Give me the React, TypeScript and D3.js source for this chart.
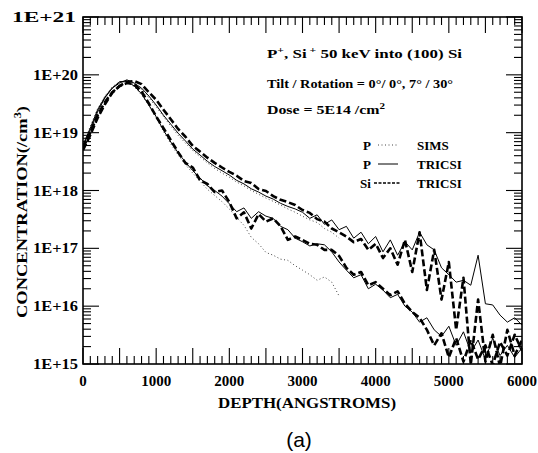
import React from "react";
import * as d3 from "d3";

const DEPTH = [0,100,200,300,400,500,600,700,800,900,1000,1100,1200,1300,1400,1500,1600,1700,1800,1900,2000,2100,2200,2300,2400,2500,2600,2700,2800,2900,3000,3100,3200,3300,3400,3500,3600,3700,3800,3900,4000,4100,4200,4300,4400,4500,4600,4700,4800,4900,5000,5100,5200,5300,5400,5500,5600,5700,5800,5900,6000];

// Si TRICSI, tilt/rotation 0/0 (channeled, upper group)
const SI_TRICSI_00 = [5.4e18,1.0e19,2.0e19,3.4e19,5.0e19,6.4e19,7.6e19,7.8e19,6.9e19,5.0e19,3.7e19,2.5e19,1.7e19,1.16e19,8.5e18,5.9e18,4.7e18,3.7e18,3.0e18,2.5e18,2.1e18,1.8e18,1.46e18,1.35e18,1.06e18,9.8e17,8.0e17,6.9e17,6.3e17,5.6e17,4.6e17,4.1e17,3.2e17,2.9e17,2.2e17,1.9e17,1.6e17,1.28e17,1.45e17,9.4e16,1.2e17,6.8e16,1.0e17,5.2e16,1.4e17,3.9e16,1.9e17,1.9e16,9.4e16,1.3e16,5.8e16,3.9e15,3.1e16,9.8e14,1.3e16,1.1e15,3.2e15,9.0e14,3.9e15,1.4e15,2.6e15];
// P TRICSI, 0/0
const P_TRICSI_00 = [6.2e18,1.2e19,2.5e19,4.1e19,5.9e19,7.2e19,8.2e19,7.2e19,5.9e19,4.3e19,3.0e19,2.0e19,1.4e19,9.8e18,7.2e18,5.2e18,4.1e18,3.2e18,2.6e18,2.2e18,1.85e18,1.5e18,1.3e18,1.07e18,9.4e17,8.0e17,7.1e17,6.0e17,5.3e17,4.8e17,4.2e17,3.3e17,3.8e17,2.6e17,3.1e17,2.1e17,2.4e17,1.5e17,1.9e17,1.2e17,1.6e17,8.7e16,1.4e17,7.6e16,1.3e17,9.4e16,1.9e17,1.15e17,9.4e16,4.6e16,3.5e16,2.6e16,2.8e16,2.3e16,7.6e16,1.1e16,1.05e16,7.0e15,5.3e15,6.3e15,4.7e15];
// Si TRICSI, 7/30 (lower group)
const SI_TRICSI_730 = [5.0e18,9.1e18,1.8e19,3.1e19,4.9e19,6.4e19,7.2e19,6.9e19,5.2e19,3.2e19,1.9e19,1.2e19,7.4e18,4.6e18,3.0e18,2.5e18,1.5e18,1.3e18,9.4e17,1.0e18,6.3e17,3.3e17,4.2e17,2.2e17,3.9e17,2.9e17,3.3e17,2.4e17,1.4e17,1.6e17,1.4e17,1.2e17,1.15e17,9.4e16,9.4e16,7.4e16,4.6e16,3.5e16,3.9e16,2.3e16,2.6e16,2.0e16,1.55e16,1.8e16,1.1e16,7.9e15,6.3e15,3.9e15,2.1e15,3.4e15,1.3e15,2.8e15,1.1e15,2.6e15,1.2e15,2.1e15,9.6e14,2.4e15,1.4e15,3.2e15,1.7e15];
// P TRICSI, 7/30
const P_TRICSI_730 = [5.9e18,1.1e19,2.3e19,4.0e19,5.9e19,7.6e19,7.8e19,6.4e19,4.7e19,3.0e19,1.9e19,1.1e19,6.9e18,4.5e18,3.1e18,2.2e18,1.65e18,1.2e18,1.0e18,8.0e17,5.9e17,4.3e17,5.0e17,3.3e17,4.3e17,3.6e17,3.3e17,2.4e17,2.1e17,1.5e17,1.3e17,1.1e17,1.2e17,1.15e17,8.7e16,5.8e16,4.2e16,3.1e16,3.5e16,2.0e16,2.4e16,1.9e16,1.4e16,1.6e16,1.0e16,7.9e15,5.3e15,6.3e15,3.9e15,3.0e15,4.5e15,2.1e15,3.6e15,1.6e15,2.6e15,1.2e15,2.8e15,1.4e15,2.1e15,1.3e15,1.9e15];
// P SIMS, 0/0 and 7/30 (depth 0..3500)
const P_SIMS_00 = [6.0e18,1.3e19,2.6e19,4.3e19,6.1e19,7.4e19,7.9e19,7.0e19,5.6e19,4.0e19,2.8e19,1.9e19,1.3e19,9.0e18,6.6e18,4.9e18,3.8e18,3.0e18,2.4e18,2.0e18,1.7e18,1.4e18,1.2e18,1.0e18,8.6e17,7.4e17,6.5e17,5.6e17,4.8e17,4.2e17,3.6e17,3.1e17,2.8e17,2.2e17,1.9e17,1.5e17];
const P_SIMS_730 = [5.5e18,1.2e19,2.4e19,4.2e19,6.2e19,7.6e19,7.5e19,6.2e19,4.5e19,2.9e19,1.8e19,1.05e19,6.4e18,4.1e18,2.8e18,2.0e18,1.45e18,1.05e18,8.2e17,6.4e17,4.8e17,3.4e17,2.5e17,1.55e17,1.2e17,8.5e16,7.6e16,6.5e16,6.2e16,5.0e16,4.2e16,3.5e16,2.8e16,3.2e16,2.6e16,1.5e16];

const X_LABELS = ["0","1000","2000","3000","4000","5000","6000"];
const Y_LABELS = ["1E+15","1E+16","1E+17","1E+18","1E+19","1E+20","1E+21"];

const W = 538, H = 453;
const L = 83, R = 522, T = 17, B = 364;
const SERIF = "'Liberation Serif', 'Times New Roman', serif";

export default function App() {
  const x = d3.scaleLinear().domain([0, 6000]).range([L, R]);
  const y = d3.scaleLog().domain([1e15, 1e21]).range([B, T]);
  const mk = (vals: number[]) =>
    d3.line<number>()
      .x((_, i) => x(DEPTH[i]))
      .y((v) => y(Math.max(v, 5e14)))(vals) || "";

  const xt = x.ticks(60);
  const yt = y.ticks();
  const isMajorY = (v: number) => Math.abs(Math.log10(v) - Math.round(Math.log10(v))) < 1e-6;

  return (
    <svg width={W} height={H} style={{ position: "absolute", left: 0, top: 0, background: "#fff" }}>
      <defs>
        <clipPath id="plot"><rect x={L} y={T} width={R - L} height={B - T} /></clipPath>
      </defs>
      <rect x={0} y={0} width={W} height={H} fill="#fff" />
      {/* ticks */}
      <g stroke="#000" strokeWidth={1.1}>
        {xt.map((d) => {
          const len = d % 500 === 0 ? 16 : 8;
          return (
            <g key={"x" + d}>
              <line x1={x(d)} x2={x(d)} y1={B} y2={B - len} />
              <line x1={x(d)} x2={x(d)} y1={T} y2={T + len} />
            </g>
          );
        })}
        {yt.map((d, i) => {
          const len = isMajorY(d) ? 16 : 8;
          return (
            <g key={"y" + i}>
              <line x1={L} x2={L + len} y1={y(d)} y2={y(d)} />
              <line x1={R} x2={R - len} y1={y(d)} y2={y(d)} />
            </g>
          );
        })}
      </g>
      <rect x={L} y={T} width={R - L} height={B - T} fill="none" stroke="#000" strokeWidth={1.6} />
      {/* curves */}
      <g clipPath="url(#plot)" fill="none" strokeLinejoin="round">
        <path d={mk(P_SIMS_00)} stroke="#444" strokeWidth={1} strokeDasharray="1,2.5" />
        <path d={mk(P_SIMS_730)} stroke="#444" strokeWidth={1} strokeDasharray="1,2.5" />
        <path d={mk(P_TRICSI_00)} stroke="#000" strokeWidth={1} />
        <path d={mk(P_TRICSI_730)} stroke="#000" strokeWidth={1} />
        <path d={mk(SI_TRICSI_00)} stroke="#000" strokeWidth={2.6} strokeDasharray="7,3" />
        <path d={mk(SI_TRICSI_730)} stroke="#000" strokeWidth={2.6} strokeDasharray="7,3" />
      </g>
      {/* tick labels */}
      <g fontFamily={SERIF} fontWeight="bold" fontSize={15} fill="#000">
        {X_LABELS.map((t) => (
          <text key={t} x={x(+t)} y={386} textAnchor="middle">{t}</text>
        ))}
        {Y_LABELS.map((t, i) => {
          const v = Math.pow(10, 15 + i);
          const wide = t === "1E+21";
          return (
            <text key={t} x={wide ? 12 : 33} y={y(v) + 5} textLength={wide ? 64 : 45} lengthAdjust="spacingAndGlyphs">{t}</text>
          );
        })}
      </g>
      {/* axis titles */}
      <text x={307} y={408} textAnchor="middle" fontFamily={SERIF} fontWeight="bold" fontSize={15} textLength={178} lengthAdjust="spacingAndGlyphs">DEPTH(ANGSTROMS)</text>
      <text transform="translate(27,318) rotate(-90)" fontFamily={SERIF} fontWeight="bold" fontSize={15} textLength={212} lengthAdjust="spacingAndGlyphs">
        CONCENTRATION(/cm<tspan dy={-6} fontSize={10}>3</tspan><tspan dy={6}>)</tspan>
      </text>
      {/* annotations */}
      <g fontFamily={SERIF} fontWeight="bold" fontSize={13} fill="#000">
        <text x={267} y={58} textLength={195} lengthAdjust="spacingAndGlyphs">
          P<tspan dy={-5} fontSize={9}>+</tspan><tspan dy={5}>, Si</tspan><tspan dy={-5} fontSize={9}> +</tspan><tspan dy={5}> 50 keV into (100) Si</tspan>
        </text>
        <text x={267} y={88} textLength={186} lengthAdjust="spacingAndGlyphs">Tilt / Rotation  = 0°/ 0°,  7° / 30°</text>
        <text x={267} y={114} textLength={118} lengthAdjust="spacingAndGlyphs">
          Dose = 5E14 /cm<tspan dy={-5} fontSize={9}>2</tspan>
        </text>
        <text x={363} y={150}>P</text>
        <text x={417} y={150}>SIMS</text>
        <text x={363} y={169}>P</text>
        <text x={417} y={169}>TRICSI</text>
        <text x={360} y={188}>Si</text>
        <text x={417} y={188}>TRICSI</text>
      </g>
      <line x1={378} x2={398} y1={145} y2={145} stroke="#444" strokeWidth={1} strokeDasharray="1,2.5" />
      <line x1={378} x2={398} y1={164} y2={164} stroke="#000" strokeWidth={1} />
      <line x1={374} x2={400} y1={183} y2={183} stroke="#000" strokeWidth={1.6} strokeDasharray="3,1.5" />
      <text x={299} y={447} textAnchor="middle" fontFamily="'Liberation Sans', Arial, sans-serif" fontSize={21}>(a)</text>
    </svg>
  );
}
